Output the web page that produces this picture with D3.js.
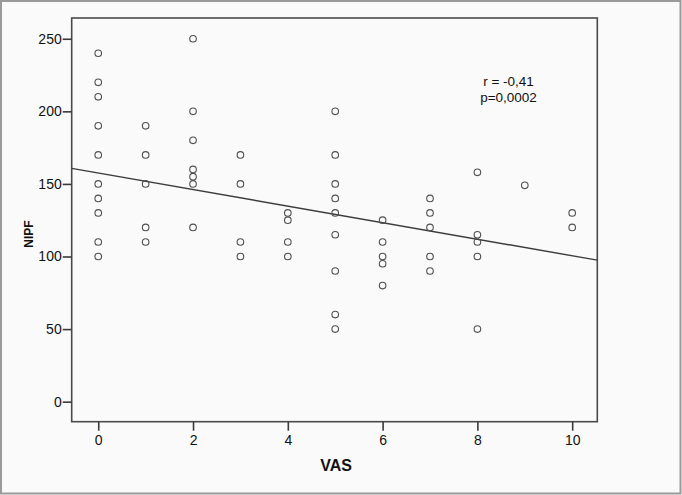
<!DOCTYPE html>
<html>
<head>
<meta charset="utf-8">
<script src="https://cdn.jsdelivr.net/npm/d3@7"></script>
<style>
html,body{margin:0;padding:0;background:#fafafa;}
svg{display:block;}
text{font-family:"Liberation Sans",Arial,sans-serif;fill:#111;}
</style>
</head>
<body>
<svg id="chart" width="682" height="495"></svg>
<script>
// Data
const vas  = [0,0,0,0,0,0,0,0,0,0,
              1,1,1,1,1,
              2,2,2,2,2,2,2,
              3,3,3,3,
              4,4,4,4,
              5,5,5,5,5,5,5,5,5,
              6,6,6,6,6,
              7,7,7,7,7,
              8,8,8,8,8,
              9,
              10,10];
const nipf = [240,220,210,190,170,150,140,130,110,100,
              190,170,150,120,110,
              250,200,180,160,155,150,120,
              170,150,110,100,
              130,125,110,100,
              200,170,150,140,130,115,90,60,50,
              125,110,100,95,80,
              140,130,120,100,90,
              158,115,110,100,50,
              149,
              130,120];
const xTicks = [0,2,4,6,8,10];
const yTicks = [0,50,100,150,200,250];
const fitIntercept = 157.5;
const fitSlope = -5.7;
const annotation = ["r = -0,41", "p=0,0002"];
const xLabel = "VAS";
const yLabel = "NIPF";

const svg = d3.select("#chart");
const W = 682, H = 495;

// outer border
svg.append("rect").attr("x",1).attr("y",1).attr("width",W-2.5).attr("height",H-2.5)
  .attr("fill","#fafafa").attr("stroke","#9a9a9a").attr("stroke-width",2);

const frame = {left:71.7, right:597.3, top:18, bottom:421.7};
const x = d3.scaleLinear().domain([-0.56, 10.53]).range([frame.left, frame.right]);
const y = d3.scaleLinear().domain([-13.8, 264.3]).range([frame.bottom, frame.top]);

// frame
svg.append("rect").attr("x",frame.left).attr("y",frame.top)
  .attr("width",frame.right-frame.left).attr("height",frame.bottom-frame.top)
  .attr("fill","none").attr("stroke","#4a4a4a").attr("stroke-width",1.6);

// axes
const xAxis = d3.axisBottom(x).tickValues(xTicks).tickSize(9).tickPadding(4).tickSizeOuter(0);
const gx = svg.append("g").attr("transform",`translate(0,${frame.bottom})`).call(xAxis);
gx.select(".domain").remove();
gx.selectAll(".tick line").attr("stroke","#3a3a3a").attr("stroke-width",1.6);
gx.selectAll(".tick text").attr("font-size",14).attr("fill","#111")
  .style("font-family","'Liberation Sans',Arial,sans-serif");

const yAxis = d3.axisLeft(y).tickValues(yTicks).tickSize(9).tickPadding(1).tickSizeOuter(0);
const gy = svg.append("g").attr("transform",`translate(${frame.left},0)`).call(yAxis);
gy.select(".domain").remove();
gy.selectAll(".tick line").attr("stroke","#3a3a3a").attr("stroke-width",1.6);
gy.selectAll(".tick text").attr("font-size",14).attr("fill","#111")
  .style("font-family","'Liberation Sans',Arial,sans-serif");

// regression line
const x0 = x.domain()[0], x1 = x.domain()[1];
svg.append("line")
  .attr("x1",x(x0)).attr("y1",y(fitIntercept+fitSlope*x0))
  .attr("x2",x(x1)).attr("y2",y(fitIntercept+fitSlope*x1))
  .attr("stroke","#3c3c3c").attr("stroke-width",1.4);

// points
const pts = vas.map((v,i)=>({v, n:nipf[i]}));
svg.append("g").selectAll("circle").data(pts).join("circle")
  .attr("cx",d=>x(d.v)).attr("cy",d=>y(d.n)).attr("r",3.3)
  .attr("fill","none").attr("stroke","#505050").attr("stroke-width",1.1);

// annotation
svg.append("text").attr("x",508.5).attr("y",86).attr("text-anchor","middle")
  .attr("font-size",13.5).text(annotation[0]);
svg.append("text").attr("x",508.5).attr("y",101.5).attr("text-anchor","middle")
  .attr("font-size",13.5).text(annotation[1]);

// axis titles
svg.append("text").attr("x",336).attr("y",471).attr("text-anchor","middle")
  .attr("font-size",16).attr("font-weight","bold").text(xLabel);
svg.append("text").attr("transform","translate(33.3,234) rotate(-90)")
  .attr("text-anchor","middle").attr("font-size",12).attr("font-weight","bold").text(yLabel);
</script>
</body>
</html>
